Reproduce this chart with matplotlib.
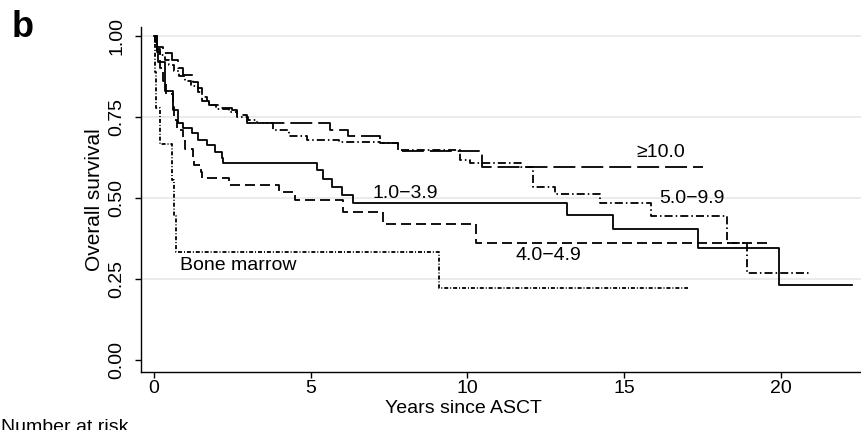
import matplotlib
matplotlib.use("Agg")
from matplotlib import pyplot as plt

plt.rcParams['font.family'] = ['Liberation Sans', 'DejaVu Sans']
plt.rcParams['lines.scale_dashes'] = False

### Kaplan-Meier steps (years, survival) ###
t_1to4 = [0, 0.1, 0.15, 0.35, 0.6, 0.78, 0.95, 1.22, 1.42, 1.7, 1.95, 2.17, 2.2,
          5.2, 5.4, 5.7, 5.99, 6.36, 13.17, 14.63, 17.34, 19.94, 22.25]
s_1to4 = [1.0, 0.955, 0.92, 0.83, 0.77, 0.73, 0.714, 0.70, 0.678, 0.663, 0.642, 0.622, 0.607,
          0.586, 0.558, 0.533, 0.509, 0.485, 0.448, 0.403, 0.346, 0.231, 0.231]

t_4to5 = [0, 0.1, 0.2, 0.3, 0.4, 0.6, 0.65, 0.75, 0.95, 1.0, 1.25, 1.3, 1.5, 1.55,
          2.4, 4.0, 4.5, 6.05, 7.3, 10.27, 19.6]
s_4to5 = [1.0, 0.95, 0.90, 0.86, 0.82, 0.78, 0.74, 0.71, 0.68, 0.65, 0.62, 0.60, 0.58, 0.561,
          0.54, 0.518, 0.493, 0.457, 0.419, 0.36, 0.36]

t_5to10 = [0, 0.05, 0.1, 0.2, 0.35, 0.5, 0.65, 0.8, 1.0, 1.2, 1.4, 1.55, 1.75, 2.0, 2.4,
           2.65, 3.0, 3.3, 3.8, 4.3, 4.9, 5.9, 7.2, 7.8, 9.77, 10.1, 11.7, 12.1, 12.8,
           14.23, 15.87, 18.27, 18.9, 20.97]
s_5to10 = [1.0, 0.98, 0.96, 0.94, 0.925, 0.91, 0.89, 0.875, 0.86, 0.845, 0.825, 0.80, 0.785,
           0.775, 0.765, 0.75, 0.74, 0.73, 0.709, 0.69, 0.678, 0.673, 0.668, 0.648, 0.617,
           0.608, 0.596, 0.534, 0.511, 0.483, 0.445, 0.36, 0.267, 0.267]

t_10plus = [0, 0.05, 0.1, 0.3, 0.57, 0.78, 0.94, 1.26, 1.4, 1.53, 1.7, 1.75, 2.1, 2.5,
            2.65, 2.96, 5.62, 6.2, 7.2, 7.8, 10.47, 17.5]
s_10plus = [1.0, 0.985, 0.966, 0.946, 0.925, 0.90, 0.879, 0.858, 0.84, 0.81, 0.80, 0.786,
            0.776, 0.77, 0.755, 0.73, 0.709, 0.69, 0.668, 0.645, 0.596, 0.596]

t_marrow = [0, 0.04, 0.06, 0.2, 0.57, 0.64, 0.70, 9.09, 17.03]
s_marrow = [1.0, 0.889, 0.778, 0.667, 0.556, 0.444, 0.333, 0.222, 0.222]

xticks = [0, 5, 10, 15, 20]
yticks = [0.0, 0.25, 0.5, 0.75, 1.0]

### Figure ###
fig = plt.figure(figsize=(8.61, 4.30), dpi=100)
ax = fig.add_axes([140.7/861, 58/430, 720.3/861, 345/430])
ax.set_xlim(-0.414, 22.55)
ax.set_ylim(-0.037, 1.027)

for y in yticks[1:]:                      # light grid, none on the axis
    ax.axhline(y, color='#e6e6e6', lw=1.1, zorder=0)

lw = 1.3
ax.step(t_1to4, s_1to4, where='post', color='black', lw=lw, ls='-')
ax.step(t_4to5, s_4to5, where='post', color='black', lw=lw, ls=(0, (7.2, 3.6)))
ax.step(t_5to10, s_5to10, where='post', color='black', lw=lw, ls=(0, (5.8, 2.2, 1.1, 2.2)))
ax.step(t_10plus, s_10plus, where='post', color='black', lw=lw, ls=(0, (15.8, 4.3)))
ax.step(t_marrow, s_marrow, where='post', color='black', lw=lw, ls=(0, (2.9, 1.4, 0.7, 1.4)))

### curve labels ###
fs = 14
ax.text(8.01, 0.515, '1.0\u22123.9', fontsize=fs, ha='center', va='center')
ax.text(12.57, 0.322, '4.0\u22124.9', fontsize=fs, ha='center', va='center')
ax.text(17.15, 0.497, '5.0\u22129.9', fontsize=fs, ha='center', va='center')
ax.text(16.17, 0.641, '\u226510.0', fontsize=fs, ha='center', va='center')
ax.text(2.70, 0.291, 'Bone marrow', fontsize=fs, ha='center', va='center')

### axes ###
for side in ['top', 'right']:
    ax.spines[side].set_visible(False)
for side in ['left', 'bottom']:
    ax.spines[side].set_linewidth(1.0)
ax.set_xticks(xticks)
ax.set_yticks(yticks)
ax.set_yticklabels([f'{v:.2f}' for v in yticks], rotation=90, va='center')
ax.tick_params(axis='both', direction='out', length=4.3, width=1.0, labelsize=fs)
ax.tick_params(axis='x', pad=1.5)
ax.tick_params(axis='y', pad=6.5)

fig.text(95/861, 0.535, 'Overall survival', fontsize=15, rotation=90, ha='center', va='center')
fig.text(463/861, 17/430, 'Years since ASCT', fontsize=fs, ha='center', va='baseline')
fig.text(1/861, -2/430, 'Number at risk', fontsize=fs, ha='left', va='baseline')
fig.text(11.5/861, 0.914, 'b', fontsize=26, fontweight='bold', ha='left', va='baseline')

fig.savefig('out.png', dpi=100)
